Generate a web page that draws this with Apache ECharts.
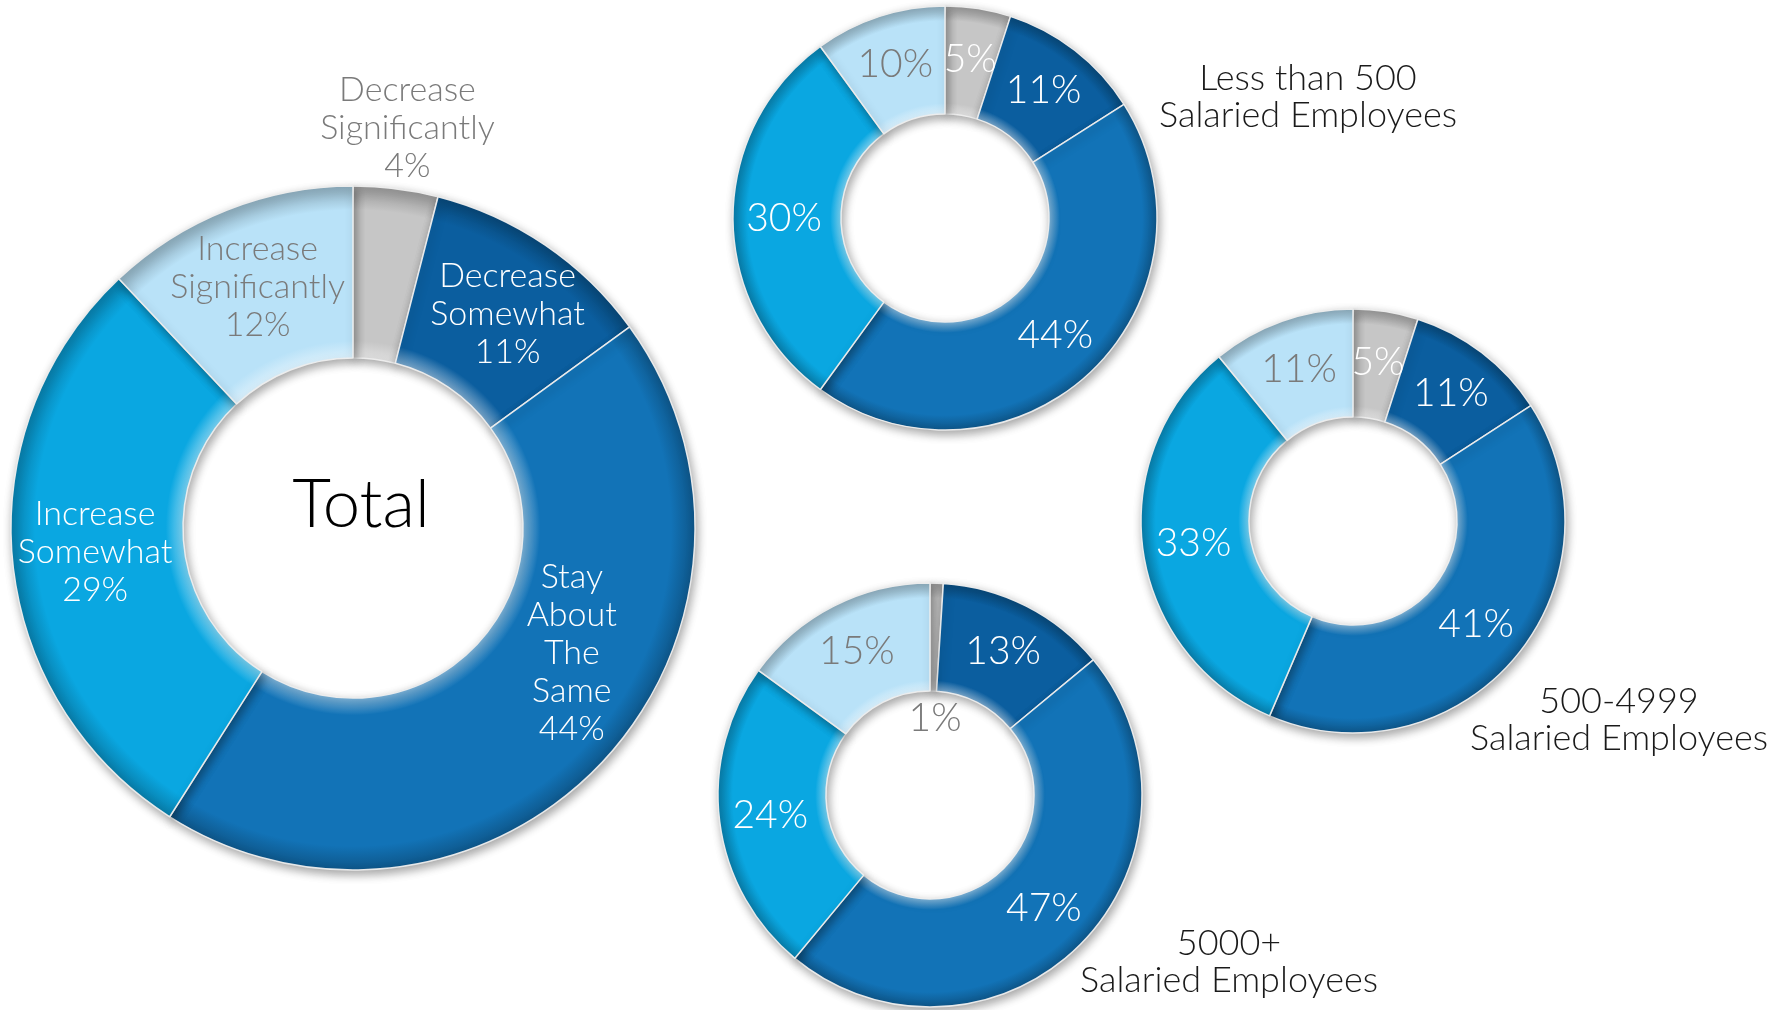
<!DOCTYPE html>
<html>
<head>
<meta charset="utf-8">
<script src="https://cdn.jsdelivr.net/npm/echarts@6/dist/echarts.min.js"></script>
<style>
  html, body { margin: 0; padding: 0; background: #ffffff; }
  #chart { width: 1781px; height: 1010px; }
</style>
</head>
<body>
<div id="chart"></div>
<script>
// Answer categories, drawn clockwise from 12 o'clock
const categories = ['Decrease Significantly', 'Decrease Somewhat', 'Stay About The Same', 'Increase Somewhat', 'Increase Significantly'];

// Percent of respondents per company size
const totalValues = [4, 11, 44, 29, 12];
const under500Values = [5, 11, 44, 30, 10];
const mid500to4999Values = [5, 11, 41, 33, 11];
const over5000Values = [1, 13, 47, 24, 15];

// Ring captions
const groupTitles = ['Total', 'Less than 500\nSalaried Employees', '500-4999\nSalaried Employees', '5000+\nSalaried Employees'];

const FONT = 'Lato, "Open Sans", sans-serif';
const sliceColors = ['#c6c6c6', '#0b5e9f', '#1273b7', '#0aa7e1', '#b9e2f8'];
const GREY_TEXT = '#7a7a7a';

function mix(hex, target, t) {
  const a = parseInt(hex.slice(1), 16);
  const r = (a >> 16) & 255, g = (a >> 8) & 255, b = a & 255;
  const m = (c) => Math.round(c + (target - c) * t);
  return 'rgb(' + m(r) + ',' + m(g) + ',' + m(b) + ')';
}

// Radial shading that gives each ring a bevelled look
function bevel(hex, cx, cy, ri, ro) {
  const k = ri / ro;
  return {
    type: 'radial', x: cx, y: cy, r: ro, global: true,
    colorStops: [
      { offset: k, color: mix(hex, 255, 0.45) },
      { offset: k + 0.05 * (1 - k) * 2, color: hex },
      { offset: 0.93, color: hex },
      { offset: 1, color: mix(hex, 0, 0.25) }
    ]
  };
}

function ringSeries(values, center, radius, opts) {
  const [cx, cy] = center, [ri, ro] = radius;
  return {
    type: 'pie',
    center: center,
    radius: radius,
    startAngle: 90,
    clockwise: true,
    silent: true,
    animation: false,
    avoidLabelOverlap: false,
    labelLine: { show: false },
    itemStyle: {
      borderColor: 'rgba(238,238,238,0.95)',
      borderWidth: 1.5,
      shadowBlur: 10,
      shadowColor: 'rgba(0,0,0,0.35)',
      shadowOffsetX: 2,
      shadowOffsetY: 4
    },
    label: {
      show: true,
      position: 'inside',
      fontFamily: FONT,
      fontWeight: 300,
      fontSize: opts.fontSize,
      lineHeight: opts.lineHeight,
      align: 'center',
      formatter: opts.formatter
    },
    labelLayout: opts.labelLayout,
    data: values.map((v, i) => ({
      name: categories[i],
      value: v,
      itemStyle: { color: bevel(sliceColors[i], cx, cy, ri, ro) },
      label: { color: opts.labelColor(i, v) }
    }))
  };
}

const chart = echarts.init(document.getElementById('chart'), null, { renderer: 'canvas' });

const titleStyle = { fontFamily: FONT, fontWeight: 300, fontSize: 36, lineHeight: 37, color: '#1a1a1a' };

chart.setOption({
  backgroundColor: '#ffffff',
  title: [
    { text: groupTitles[0], left: 356, top: 465, textAlign: 'center',
      textStyle: { fontFamily: FONT, fontWeight: 300, fontSize: 67, lineHeight: 70, color: '#000000' } },
    { text: groupTitles[1], left: 1303, top: 55, textAlign: 'center', textStyle: titleStyle },
    { text: groupTitles[2], left: 1614, top: 678, textAlign: 'center', textStyle: titleStyle },
    { text: groupTitles[3], left: 1224, top: 920, textAlign: 'center', textStyle: titleStyle }
  ],
  series: [
    ringSeries(totalValues, [353, 528], [170, 342], {
      fontSize: 34, lineHeight: 38,
      formatter: (p) => p.name.split(' ').join('\n') + '\n' + p.value + '%',
      labelColor: (i) => (i === 0 || i === 4) ? GREY_TEXT : '#ffffff',
      labelLayout: (p) => {
        if (p.dataIndex === 0) return { dx: 22, dy: -143 };
        if (p.dataIndex === 1) return { dx: 9 };
        if (p.dataIndex === 2) return { dx: 30, dy: -52 };
        return {};
      }
    }),
    ringSeries(under500Values, [945, 218], [104, 212], {
      fontSize: 39, lineHeight: 42,
      formatter: (p) => p.value + '%',
      labelColor: (i) => i === 4 ? GREY_TEXT : '#ffffff'
    }),
    ringSeries(mid500to4999Values, [1353, 521], [104, 212], {
      fontSize: 39, lineHeight: 42,
      formatter: (p) => p.value + '%',
      labelColor: (i) => i === 4 ? GREY_TEXT : '#ffffff'
    }),
    ringSeries(over5000Values, [930, 795], [104, 212], {
      fontSize: 39, lineHeight: 42,
      formatter: (p) => p.value + '%',
      // a sliver too thin to hold its label: the label sits in the hole, in grey
      labelColor: (i, v) => (i === 4 || v < 3) ? GREY_TEXT : '#ffffff',
      labelLayout: (p) => (p.dataIndex === 0 ? { dy: 84 } : {})
    })
  ]
});
</script>
</body>
</html>
